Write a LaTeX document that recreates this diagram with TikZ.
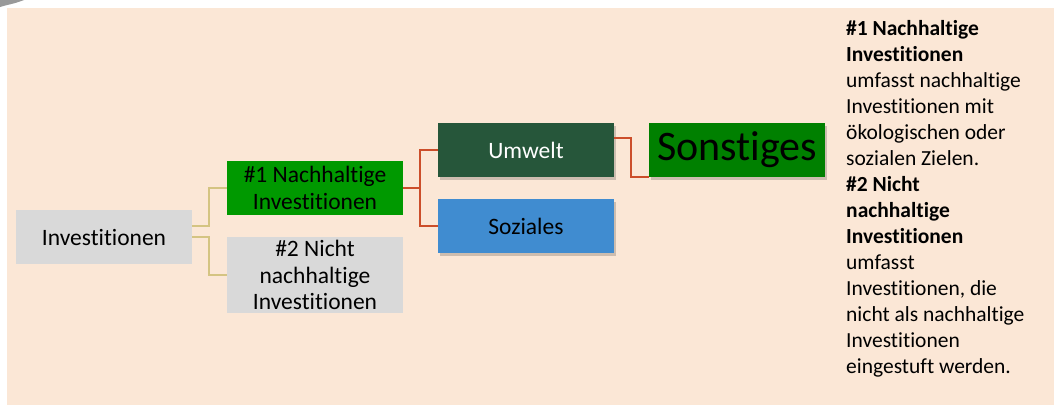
\documentclass[tikz,border=0pt]{standalone}
\usepackage{fontspec}
\setmainfont{Carlito}[Ligatures=NoCommon]
\usetikzlibrary{shadows, calc}
\definecolor{peachfill}{RGB}{251, 231, 214}
\definecolor{boxgray}{RGB}{217, 217, 217}
\definecolor{brightgreen}{RGB}{0, 153, 0}
\definecolor{darkgreen}{RGB}{38, 86, 58}
\definecolor{skyblue}{RGB}{64, 140, 208}
\definecolor{plaingreen}{RGB}{0, 128, 0}
\definecolor{oliveline}{RGB}{212, 196, 130}
\definecolor{rustline}{RGB}{204, 78, 42}
\tikzset{
    treebox/.style={draw=none, inner sep=0pt, minimum width=176pt,
        minimum height=54pt, align=center,
        font=\fontsize{23.5}{26.5}\selectfont},
    shadowbox/.style={treebox, drop shadow={shadow xshift=2pt,
        shadow yshift=-3pt, opacity=.18, fill=black}},
    olivelink/.style={draw=oliveline, line width=2pt},
    rustlink/.style={draw=rustline, line width=1.8pt},
}

\begin{document}
\begin{tikzpicture}[x=1pt, y=-1pt]
    \useasboundingbox (0, 0) rectangle (1054, 405);
    \fill[peachfill] (7, 8) rectangle (1054, 405);
    \fill[gray!80] (0, 0) -- (24, 0) .. controls (14, 4) and (6, 5) .. (0, 7)
        -- cycle;
    % first level
    \node[treebox, fill=boxgray] (invest) at (104, 237) {Investitionen};
    \node[treebox, fill=brightgreen] (nachhaltig) at (315, 188)
        {\#1 Nachhaltige\\Investitionen};
    \node[treebox, fill=boxgray, minimum height=76pt] (nichtnach)
        at (315, 275) {\#2 Nicht\\nachhaltige\\Investitionen};
    % second level
    \node[shadowbox, fill=darkgreen, text=white] (umwelt) at (526, 150)
        {Umwelt};
    \node[shadowbox, fill=skyblue] (soziales) at (526, 226) {Soziales};
    \node[shadowbox, fill=plaingreen, font=\fontsize{42}{46}\selectfont]
        (sonstiges) at (737, 150) {Sonstiges};
    % connectors
    \draw[olivelink] ([yshift=11pt]invest.east) -- ++(17, 0)
        |- (nachhaltig.west);
    \draw[olivelink] (invest.east) -- ++(17, 0) |- (nichtnach.west);
    \draw[rustlink] (nachhaltig.east) -- ++(17, 0) coordinate (rustjoint);
    \draw[rustlink] (umwelt.west) -| (rustjoint) |- (soziales.west);
    \draw[rustlink] ([yshift=12pt]umwelt.east) -- ++(17, 0)
        |- (sonstiges.south west);
    % side notes
    \node[anchor=north west, inner sep=0pt, align=left,
        font=\fontsize{21.5}{26}\selectfont] (infotext) at (846, 20)
        {\textbf{\#1 Nachhaltige}\\\textbf{Investitionen}\\umfasst nachhaltige\\
        Investitionen mit\\ökologischen oder\\sozialen Zielen.\\
        \textbf{\#2 Nicht}\\\textbf{nachhaltige}\\\textbf{Investitionen}\\
        umfasst\\Investitionen, die\\nicht als nachhaltige\\Investitionen\\
        eingestuft werden.};
\end{tikzpicture}
\end{document}
